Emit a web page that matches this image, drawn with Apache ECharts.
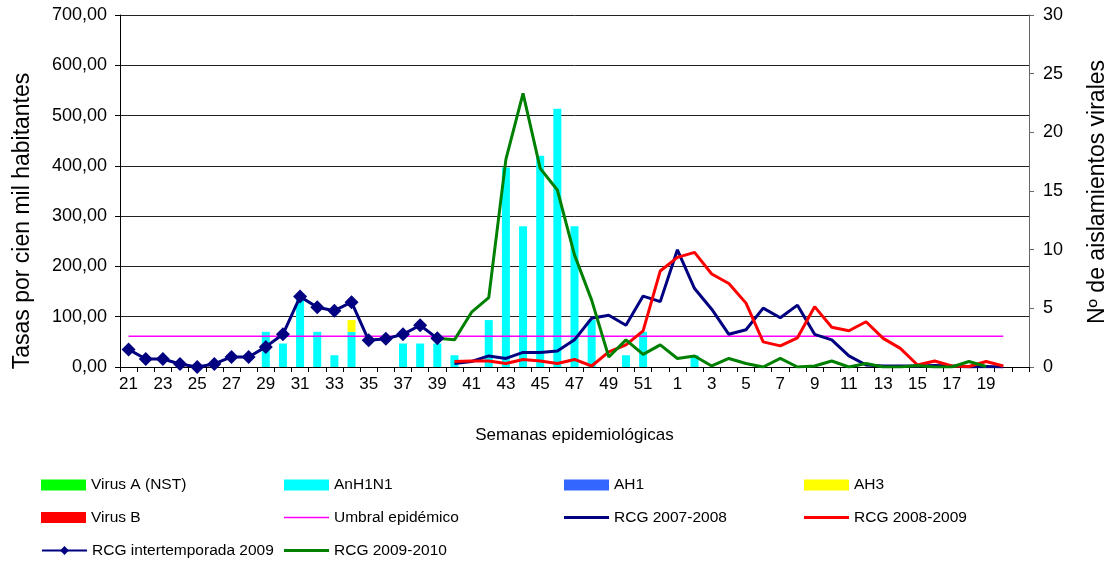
<!DOCTYPE html>
<html>
<head>
<meta charset="utf-8">
<script src="https://cdn.jsdelivr.net/npm/echarts@6/dist/echarts.min.js"></script>
<style>
html,body{margin:0;padding:0;background:#fff;}
#chart{width:1109px;height:564px;}
</style>
</head>
<body>
<div id="chart"></div>
<script>
var weeks = ['21','22','23','24','25','26','27','28','29','30','31','32','33','34','35','36','37','38','39','40','41','42','43','44','45','46','47','48','49','50','51','52',
  '1','2','3','4','5','6','7','8','9','10','11','12','13','14','15','16','17','18','19','20',''];

var leftTicks = {min: 0, max: 700, interval: 100};
var rightTicks = {min: 0, max: 30, interval: 5};

var virusA = [];
var anh1n1 = [null,null,null,null,null,null,null,null,3,2,6,3,1,3,null,null,2,2,2,1,null,4,17,12,18,22,12,4,null,1,3,null,
  null,1,null,null,null,null,null,null,null,null,null,null,null,null,null,null,null,null,null,null,null];
var ah1 = [];
var ah3 = [null,null,null,null,null,null,null,null,null,null,null,null,null,1,null,null,null,null,null,null,null,null,null,null,null,null,null,null,null,null,null,null,
  null,null,null,null,null,null,null,null,null,null,null,null,null,null,null,null,null,null,null,null,null];
var virusB = [];
var umbral = [61,61,61,61,61,61,61,61,61,61,61,61,61,61,61,61,61,61,61,61,61,61,61,61,61,61,61,61,61,61,61,61,
  61,61,61,61,61,61,61,61,61,61,61,61,61,61,61,61,61,61,61,61,null];
var rcg0708 = [null,null,null,null,null,null,null,null,null,null,null,null,null,null,null,null,null,null,null,
  7,11,22,17,29,29,32,54,97,103,83,141,130,
  233,156,115,65,74,117,98,123,65,54,22,4,2,2,2,3,2,0,1,0,null];
var rcg0809 = [null,null,null,null,null,null,null,null,null,null,null,null,null,null,null,null,null,null,null,
  11,12,12,7,15,12,7,15,2,30,44,72,191,
  218,228,185,166,127,50,42,58,120,79,72,90,57,37,4,12,2,1,11,2,null];
var rcgInter2009 = [35,16,16,6,0,6,20,20,40,65,140,119,112,129,53,56,65,83,57,
  null,null,null,null,null,null,null,null,null,null,null,null,null,
  null,null,null,null,null,null,null,null,null,null,null,null,null,null,null,null,null,null,null,null,null];
var rcg0910 = [null,null,null,null,null,null,null,null,null,null,null,null,null,null,null,null,null,null,
  57,54,109,138,413,544,395,352,223,133,20,54,25,44,
  17,22,2,17,7,0,17,0,2,12,0,7,0,0,3,0,0,11,1,null,null];

var FONT = 'Liberation Sans';
var chart = echarts.init(document.getElementById('chart'), null, {renderer: 'canvas'});

function leg(name, left, rowCenter, icon, ih) {
  var item = icon ? {name: name, icon: icon} : name;
  return {
    left: left, top: rowCenter - 8, orient: 'horizontal',
    itemWidth: 45, itemHeight: ih, padding: 0,
    textStyle: {fontFamily: FONT, fontSize: 15.5, color: '#000', lineHeight: 16},
    data: [item]
  };
}
var R1 = 485, R2 = 517.5, R3 = 550.5;
var C1 = 41, C2 = 284, C3 = 564, C4 = 804;

var option = {
  animation: false,
  backgroundColor: '#fff',
  textStyle: {fontFamily: FONT},
  grid: {left: 120, right: 80, top: 15, bottom: 197, containLabel: false},
  legend: [
    leg('Virus A (NST)', C1, R1, 'rect', 11),
    leg('AnH1N1', C2, R1, 'rect', 11),
    leg('AH1', C3, R1, 'rect', 11),
    leg('AH3', C4, R1, 'rect', 11),
    leg('Virus B', C1, R2, 'rect', 11),
    leg('Umbral epidémico', C2, R2, 'rect', 1.5),
    leg('RCG 2007-2008', C3, R2, 'rect', 3),
    leg('RCG 2008-2009', C4, R2, 'rect', 3),
    leg('RCG intertemporada 2009', C1, R3, null, 11),
    leg('RCG 2009-2010', C2, R3, 'rect', 3)
  ],
  graphic: [
    {type:'text', x: 23, y: 221, rotation: Math.PI/2,
     style:{text:'Tasas por cien mil habitantes', font:'23px "Liberation Sans"', fill:'#000', align:'center', verticalAlign:'middle'}},
    {type:'text', x: 1098, y: 192, rotation: Math.PI/2,
     style:{text:'Nº de aislamientos virales', font:'23px "Liberation Sans"', fill:'#000', align:'center', verticalAlign:'middle'}}
  ],
  xAxis: {
    type: 'category', data: weeks, boundaryGap: true,
    name: 'Semanas epidemiológicas', nameLocation: 'middle', nameGap: 60,
    nameTextStyle: {fontFamily: FONT, fontSize: 17, color: '#000'},
    axisLine: {lineStyle: {color: '#000', width: 1}},
    axisTick: {show: true, interval: 0, length: 5, lineStyle: {color: '#000'}},
    axisLabel: {interval: 1, margin: 9, fontFamily: FONT, fontSize: 17, color: '#000'},
    splitLine: {show: false}
  },
  yAxis: [
    {
      type: 'value', min: leftTicks.min, max: leftTicks.max, interval: leftTicks.interval, position: 'left',
      axisLine: {show: true, lineStyle: {color: '#000'}},
      axisTick: {show: true, length: 5, lineStyle: {color: '#000'}},
      axisLabel: {margin: 13, fontFamily: FONT, fontSize: 18, color: '#000',
        formatter: function (v) { return v.toFixed(2).replace('.', ','); }},
      splitLine: {show: true, lineStyle: {color: '#222', width: 1}}
    },
    {
      type: 'value', min: rightTicks.min, max: rightTicks.max, interval: rightTicks.interval, position: 'right',
      axisLine: {show: true, lineStyle: {color: '#666'}},
      axisTick: {show: true, length: 5, lineStyle: {color: '#666'}},
      axisLabel: {margin: 14, fontFamily: FONT, fontSize: 18, color: '#000'},
      splitLine: {show: false}
    }
  ],
  series: [
    {name:'Virus A (NST)', type:'bar', yAxisIndex:1, stack:'v', barWidth: 8, data: virusA, itemStyle:{color:'#00FF00'}},
    {name:'AnH1N1', type:'bar', yAxisIndex:1, stack:'v', barWidth: 8, data: anh1n1, itemStyle:{color:'#00FFFF'}},
    {name:'AH1', type:'bar', yAxisIndex:1, stack:'v', barWidth: 8, data: ah1, itemStyle:{color:'#3366FF'}},
    {name:'AH3', type:'bar', yAxisIndex:1, stack:'v', barWidth: 8, data: ah3, itemStyle:{color:'#FFFF00'}},
    {name:'Virus B', type:'bar', yAxisIndex:1, stack:'v', barWidth: 8, data: virusB, itemStyle:{color:'#FF0000'}},
    {name:'Umbral epidémico', type:'line', yAxisIndex:0, data: umbral, symbol:'none', z: 3,
     lineStyle:{color:'#FF00FF', width: 1.5}, itemStyle:{color:'#FF00FF'}},
    {name:'RCG 2007-2008', type:'line', yAxisIndex:0, data: rcg0708, symbol:'none', z: 4,
     lineStyle:{color:'#000080', width: 3}, itemStyle:{color:'#000080'}},
    {name:'RCG 2008-2009', type:'line', yAxisIndex:0, data: rcg0809, symbol:'none', z: 4,
     lineStyle:{color:'#FF0000', width: 3}, itemStyle:{color:'#FF0000'}},
    {name:'RCG intertemporada 2009', type:'line', yAxisIndex:0, data: rcgInter2009, symbol:'diamond', symbolSize: 14, showAllSymbol: true, z: 5,
     lineStyle:{color:'#000080', width: 3}, itemStyle:{color:'#000080'}},
    {name:'RCG 2009-2010', type:'line', yAxisIndex:0, data: rcg0910, symbol:'none', z: 4,
     lineStyle:{color:'#008000', width: 3}, itemStyle:{color:'#008000'}}
  ]
};
chart.setOption(option);
</script>
</body>
</html>
